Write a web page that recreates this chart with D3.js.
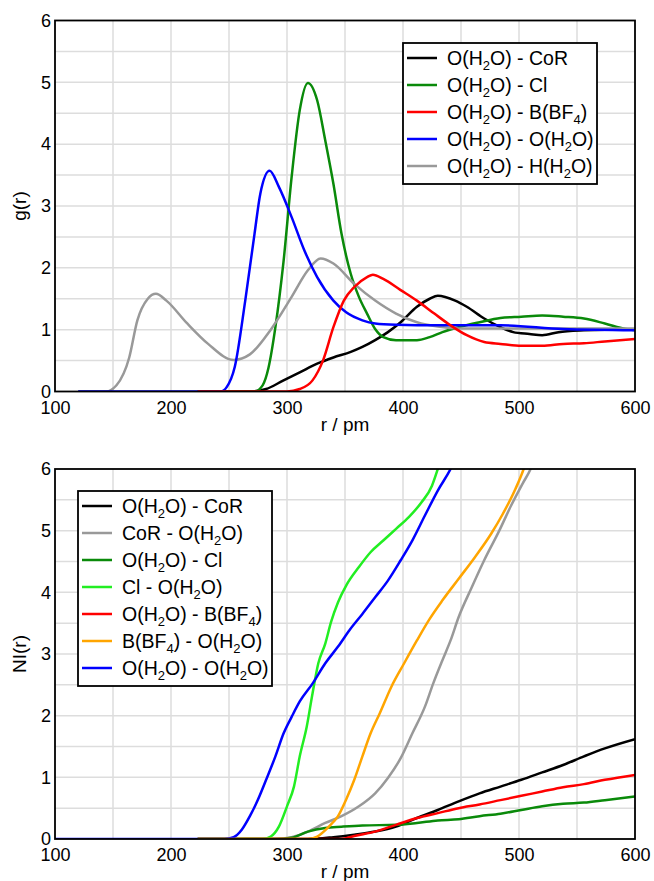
<!DOCTYPE html>
<html>
<head>
<meta charset="utf-8">
<script src="https://cdn.jsdelivr.net/npm/d3@7/dist/d3.min.js"></script>
<style>
  html, body { margin: 0; padding: 0; background: #fff; }
  svg { display: block; font-family: "Liberation Sans", Arial, Helvetica, sans-serif; }
</style>
</head>
<body>
<svg id="chart" width="654" height="881"></svg>
<script>
/* Two stacked panels: radial distribution g(r) on top,
 * running coordination number NI(r) below.
 */
(function () {
    "use strict";

    // shared axes
    var xTicks = [100, 200, 300, 400, 500, 600];
    var yTicks = [0, 1, 2, 3, 4, 5, 6];
    var xGrid = [150, 200, 250, 300, 350, 400, 450, 500, 550];
    var yGrid = [0.5, 1, 1.5, 2, 2.5, 3, 3.5, 4, 4.5, 5, 5.5];

    // top panel: g(r), [r / pm, g]
    var gOCoR = [[223,0],[268,0],[282,0.04],[297,0.18],[311,0.31],[326,0.45],[340,0.55],[355,0.64],[365,0.72],[376,0.83],[387,0.96],[398,1.12],[412,1.37],[423,1.5],[430,1.55],[445,1.47],[455,1.37],[470,1.18],[484,1.04],[495,0.96],[509,0.93],[520,0.91],[534,0.96],[556,0.99],[574,1.0],[600,1.0]];
    var gOCl = [[223,0],[272,0],[279,0.1],[284,0.38],[290,1.04],[297,2.1],[304,3.47],[311,4.55],[318,4.99],[326,4.71],[333,4.06],[340,3.36],[347,2.55],[355,1.9],[362,1.53],[369,1.26],[376,1.01],[383,0.88],[394,0.83],[412,0.83],[423,0.88],[434,0.96],[448,1.04],[466,1.12],[484,1.19],[502,1.21],[520,1.23],[538,1.21],[556,1.18],[574,1.1],[592,1.01],[600,0.99]];
    var gOB = [[223,0],[300,0],[311,0.04],[322,0.18],[331,0.5],[340,1.04],[349,1.47],[358,1.69],[369,1.85],[374,1.89],[383,1.82],[398,1.64],[412,1.47],[427,1.26],[441,1.07],[455,0.91],[470,0.8],[484,0.77],[502,0.74],[520,0.74],[538,0.77],[556,0.78],[574,0.81],[600,0.85]];
    var gOO = [[120,0],[243,0],[248,0.07],[255,0.4],[264,1.47],[272,2.55],[277,3.2],[285,3.57],[293,3.31],[304,2.82],[315,2.28],[326,1.85],[340,1.47],[351,1.28],[365,1.15],[376,1.1],[394,1.08],[430,1.07],[484,1.07],[538,1.01],[600,0.99]];
    var gOH = [[120,0],[144,0],[153,0.1],[164,0.55],[171,1.15],[180,1.5],[187,1.58],[196,1.47],[214,1.1],[232,0.77],[254,0.51],[268,0.6],[286,1.0],[304,1.53],[318,1.96],[329,2.15],[340,2.07],[358,1.74],[376,1.47],[394,1.26],[412,1.12],[430,1.05],[448,1.02],[500,1.02],[600,1.02]];

    var topLabels = ["O(H_2O) - CoR", "O(H_2O) - Cl", "O(H_2O) - B(BF_4)", "O(H_2O) - O(H_2O)", "O(H_2O) - H(H_2O)"];
    var topColours = ["#000000", "#0a8a0a", "#ff0000", "#0000ff", "#999999"];
    var topSeries = [gOCoR, gOCl, gOB, gOO, gOH];
    var topOrder = [0, 1, 4, 3, 2];

    // bottom panel: NI(r), [r / pm, N]
    var nOCoR = [[223,0],[318,0],[340,0.03],[358,0.07],[376,0.12],[394,0.2],[412,0.34],[430,0.47],[448,0.61],[466,0.74],[484,0.85],[502,0.96],[520,1.08],[538,1.2],[556,1.34],[574,1.47],[600,1.62]];
    var nCoRO = [[223,0],[290,0],[304,0.03],[318,0.12],[333,0.26],[347,0.37],[362,0.53],[376,0.74],[387,0.99],[398,1.31],[408,1.71],[419,2.15],[426,2.52],[434,2.9],[441,3.22],[448,3.6],[459,4.07],[470,4.52],[483,5.0],[493,5.4],[503,5.76],[510,6.0],[516,6.3]];
    var nOCl = [[223,0],[290,0],[304,0.02],[318,0.12],[333,0.18],[347,0.2],[365,0.22],[394,0.23],[412,0.26],[430,0.3],[448,0.32],[466,0.37],[484,0.41],[502,0.47],[520,0.53],[538,0.57],[556,0.59],[574,0.63],[600,0.69]];
    var nClO = [[223,0],[279,0],[286,0.04],[293,0.2],[300,0.53],[306,0.85],[311,1.34],[317,1.82],[322,2.36],[327,2.85],[333,3.17],[338,3.52],[344,3.84],[351,4.11],[362,4.41],[372,4.65],[383,4.84],[394,5.03],[405,5.22],[416,5.46],[425,5.73],[430,6.0],[435,6.3]];
    var nOB = [[223,0],[347,0],[358,0.05],[376,0.12],[394,0.23],[412,0.34],[430,0.42],[448,0.5],[466,0.56],[484,0.63],[502,0.7],[520,0.77],[538,0.84],[556,0.89],[574,0.96],[600,1.04]];
    var nBO = [[223,0],[318,0],[326,0.04],[336,0.2],[344,0.37],[351,0.64],[358,0.96],[365,1.34],[372,1.71],[380,2.04],[390,2.47],[401,2.85],[412,3.22],[423,3.57],[434,3.87],[448,4.22],[462,4.57],[476,4.95],[486,5.27],[497,5.68],[504,6.0],[509,6.3]];
    var nOO = [[100,0],[246,0],[254,0.03],[261,0.15],[268,0.37],[275,0.64],[282,0.96],[290,1.34],[297,1.71],[304,1.98],[311,2.23],[322,2.52],[333,2.85],[344,3.12],[354,3.39],[365,3.65],[376,3.92],[387,4.19],[398,4.52],[408,4.84],[419,5.25],[430,5.65],[441,6.0],[446,6.2]];

    var botLabels = ["O(H_2O) - CoR", "CoR - O(H_2O)", "O(H_2O) - Cl", "Cl - O(H_2O)", "O(H_2O) - B(BF_4)", "B(BF_4) - O(H_2O)", "O(H_2O) - O(H_2O)"];
    var botColours = ["#000000", "#999999", "#0a8a0a", "#22ee22", "#ff0000", "#ffa500", "#0000ff"];
    var botSeries = [nOCoR, nCoRO, nOCl, nClO, nOB, nBO, nOO];
    var botOrder = [0, 1, 2, 3, 4, 6, 5];

    var svg = d3.select("#chart");

    // text with "_n" subscripts
    function richText(sel, label) {
        var parts = label.split(/_(\d)/);
        parts.forEach(function (p, i) {
            if (!p) { return; }
            var t = sel.append("tspan").text(p);
            if (i % 2 === 1) {
                t.attr("font-size", 13).attr("dy", 5);
            } else if (i > 0) {
                t.attr("dy", -5);
            }
        });
    }

    function drawPanel(cfg) {
        var x = d3.scaleLinear().domain([100, 600]).range([55, 635]);
        var y = d3.scaleLinear().domain([0, 6]).range([cfg.bottom, cfg.top]);
        var g = svg.append("g");

        g.append("clipPath").attr("id", cfg.id + "-clip")
            .append("rect")
            .attr("x", x(100)).attr("y", y(6))
            .attr("width", x(600) - x(100)).attr("height", y(0) - y(6));

        var grid = g.append("g").attr("stroke", "#dddddd").attr("stroke-width", 1.5);
        grid.selectAll("line.vx").data(xGrid).join("line")
            .attr("x1", function (d) { return x(d); }).attr("x2", function (d) { return x(d); })
            .attr("y1", y(0)).attr("y2", y(6));
        grid.selectAll("line.hy").data(yGrid).join("line")
            .attr("x1", x(100)).attr("x2", x(600))
            .attr("y1", function (d) { return y(d); }).attr("y2", function (d) { return y(d); });

        var line = d3.line()
            .x(function (d) { return x(d[0]); })
            .y(function (d) { return y(d[1]); })
            .curve(d3.curveMonotoneX);

        g.append("g")
            .attr("clip-path", "url(#" + cfg.id + "-clip)")
            .attr("fill", "none")
            .attr("stroke-width", 2.5)
            .attr("stroke-linejoin", "round")
            .selectAll("path")
            .data(cfg.order)
            .join("path")
            .attr("stroke", function (i) { return cfg.colours[i]; })
            .attr("d", function (i) { return line(cfg.series[i]); });

        g.append("rect")
            .attr("x", x(100)).attr("y", y(6))
            .attr("width", x(600) - x(100)).attr("height", y(0) - y(6))
            .attr("fill", "none").attr("stroke", "#000").attr("stroke-width", 1.8);

        var xAxis = g.append("g")
            .attr("transform", "translate(0," + y(0) + ")")
            .call(d3.axisBottom(x).tickValues(xTicks).tickFormat(d3.format("d")).tickSize(0).tickPadding(5));
        xAxis.select(".domain").remove();
        xAxis.selectAll("text").attr("font-size", 18).attr("fill", "#000").attr("dy", "0.95em")
            .style("font-family", "inherit");

        var yAxis = g.append("g")
            .attr("transform", "translate(" + x(100) + ",0)")
            .call(d3.axisLeft(y).tickValues(yTicks).tickFormat(d3.format("d")).tickSize(0).tickPadding(4));
        yAxis.select(".domain").remove();
        yAxis.selectAll("text").attr("font-size", 18).attr("fill", "#000")
            .style("font-family", "inherit");

        g.append("text")
            .attr("x", (x(100) + x(600)) / 2).attr("y", y(0) + 39)
            .attr("text-anchor", "middle").attr("font-size", 19)
            .text("r / pm");

        g.append("text")
            .attr("transform", "translate(26," + (y(0) + y(6)) / 2 + ") rotate(-90)")
            .attr("text-anchor", "middle").attr("font-size", 19)
            .text(cfg.yLabel);

        // legend
        var lg = cfg.legend;
        var n = cfg.labels.length;
        g.append("rect")
            .attr("x", lg.x).attr("y", lg.y)
            .attr("width", lg.w).attr("height", 33 + (n - 1) * 27)
            .attr("fill", "#fff").attr("stroke", "#000").attr("stroke-width", 1.8);
        var item = g.append("g").selectAll("g")
            .data(cfg.labels)
            .join("g")
            .attr("transform", function (d, i) { return "translate(" + lg.x + "," + (lg.y + 15 + i * 27) + ")"; });
        item.append("line")
            .attr("x1", 4).attr("x2", 34).attr("y1", 0).attr("y2", 0)
            .attr("stroke-width", 2.5)
            .attr("stroke", function (d, i) { return cfg.colours[i]; });
        item.append("text")
            .attr("x", 44).attr("y", 6.5)
            .attr("font-size", 19.5)
            .each(function (d) { richText(d3.select(this), d); });
    }

    drawPanel({
        id: "gr", top: 20.5, bottom: 391.5, yLabel: "g(r)",
        series: topSeries, colours: topColours, labels: topLabels, order: topOrder,
        legend: { x: 403, y: 43, w: 194 }
    });

    drawPanel({
        id: "ni", top: 469, bottom: 839, yLabel: "NI(r)",
        series: botSeries, colours: botColours, labels: botLabels, order: botOrder,
        legend: { x: 78, y: 491, w: 194 }
    });
})();
</script>
</body>
</html>
